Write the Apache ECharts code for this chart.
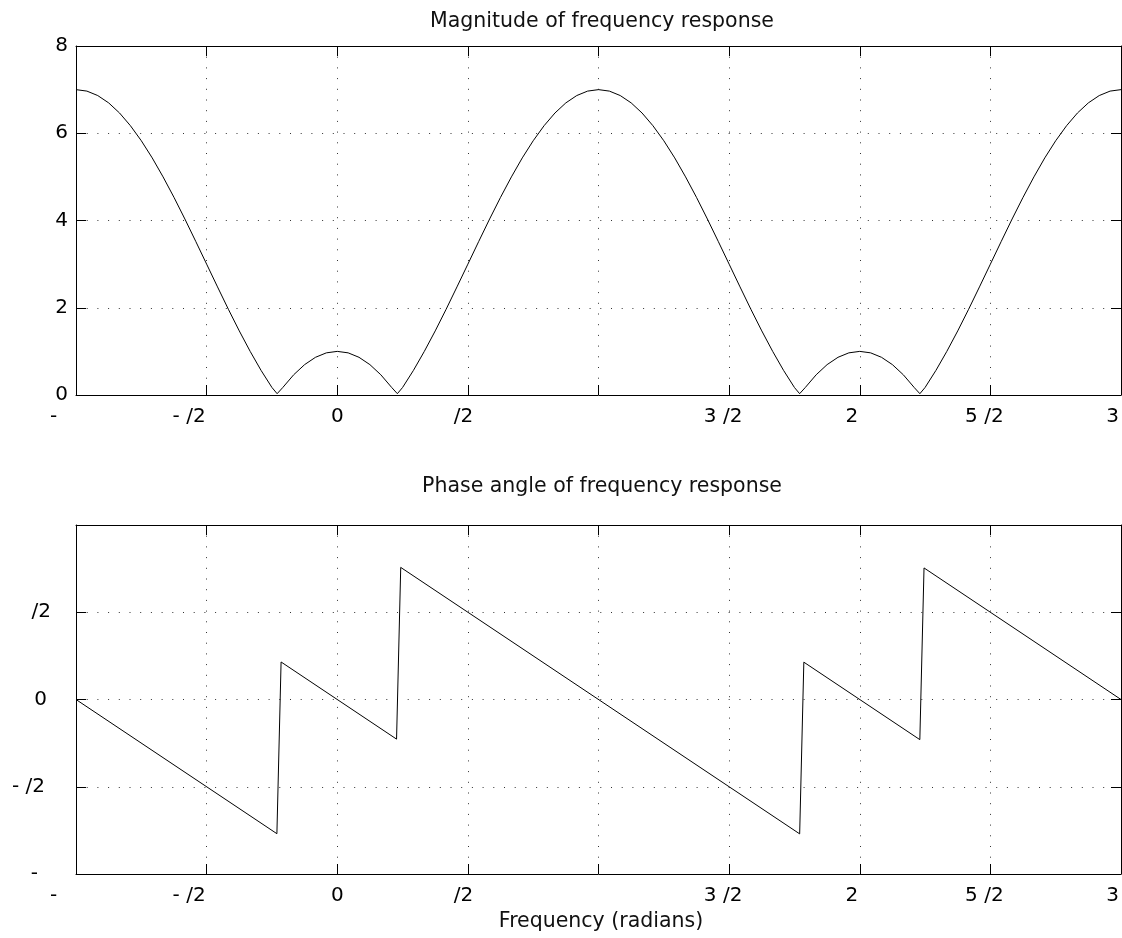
<!DOCTYPE html>
<html>
<head>
<meta charset="utf-8">
<script src="https://cdn.jsdelivr.net/npm/echarts@6/dist/echarts.min.js"></script>
<style>
html,body{margin:0;padding:0;background:#fff;}
#chart{width:1122px;height:938px;}
</style>
</head>
<body>
<div id="chart"></div>
<script>
// ---------------- data (frequency and phase in units of pi) ----------------
const titles = ["Magnitude of frequency response", "Phase angle of frequency response"];
const xAxisTitle = "Frequency (radians)";

// tick labels as they appear in the reference (the pi glyph is not rendered)
const freqTickLabels = ["-", "- /2", "0", " /2", "", "3 /2", "2", "5 /2", "3"];
const magTickLabels = ["0", "2", "4", "6", "8"];
const phaseTickLabels = ["-", "- /2", "0", " /2", ""];

const magFreq = [
  -1, -0.9583, -0.9167, -0.875, -0.8333, -0.7917, -0.75, -0.7083, -0.6667, -0.625, -0.5833, -0.5417,
  -0.5, -0.4583, -0.4167, -0.375, -0.3333, -0.2917, -0.25, -0.2301, -0.2083, -0.1667, -0.125, -0.0833, -0.0417,
  0, 0.0417, 0.0833, 0.125, 0.1667, 0.2083, 0.2301, 0.25, 0.2917, 0.3333, 0.375, 0.4167, 0.4583,
  0.5, 0.5417, 0.5833, 0.625, 0.6667, 0.7083, 0.75, 0.7917, 0.8333, 0.875, 0.9167, 0.9583,
  1, 1.0417, 1.0833, 1.125, 1.1667, 1.2083, 1.25, 1.2917, 1.3333, 1.375, 1.4167, 1.4583,
  1.5, 1.5417, 1.5833, 1.625, 1.6667, 1.7083, 1.75, 1.7699, 1.7917, 1.8333, 1.875, 1.9167, 1.9583,
  2, 2.0417, 2.0833, 2.125, 2.1667, 2.2083, 2.2301, 2.25, 2.2917, 2.3333, 2.375, 2.4167, 2.4583,
  2.5, 2.5417, 2.5833, 2.625, 2.6667, 2.7083, 2.75, 2.7917, 2.8333, 2.875, 2.9167, 2.9583, 3
];
const magValue = [
  7.000, 6.966, 6.864, 6.696, 6.464, 6.173, 5.828, 5.435, 5.000, 4.531, 4.035, 3.522,
  3.000, 2.478, 1.965, 1.469, 1.000, 0.565, 0.172, 0.030, 0.173, 0.464, 0.696, 0.864, 0.966,
  1.000, 0.966, 0.864, 0.696, 0.464, 0.173, 0.030, 0.172, 0.565, 1.000, 1.469, 1.965, 2.478,
  3.000, 3.522, 4.035, 4.531, 5.000, 5.435, 5.828, 6.173, 6.464, 6.696, 6.864, 6.966,
  7.000, 6.966, 6.864, 6.696, 6.464, 6.173, 5.828, 5.435, 5.000, 4.531, 4.035, 3.522,
  3.000, 2.478, 1.965, 1.469, 1.000, 0.565, 0.172, 0.030, 0.173, 0.464, 0.696, 0.864, 0.966,
  1.000, 0.966, 0.864, 0.696, 0.464, 0.173, 0.030, 0.172, 0.565, 1.000, 1.469, 1.965, 2.478,
  3.000, 3.522, 4.035, 4.531, 5.000, 5.435, 5.828, 6.173, 6.464, 6.696, 6.864, 6.966, 7.000
];

const phaseFreq  = [-1, -0.231, -0.215, 0.227, 0.243, 1.770, 1.786, 2.230, 2.246, 3];
const phaseValue = [0, -0.769, 0.215, -0.227, 0.757, -0.770, 0.214, -0.230, 0.754, 0];

// ---------------- style / layout ----------------
const FONT = "'DejaVu Sans', 'Liberation Sans', sans-serif";
const FS = 20;
const xLabelPad = [45, 35, 0, 15, 0, 12, 16, 12, 17];
const phaseLabelPad = [30, 23, 21, 17, 0];
const magLabelPad = [0, 0, 0, 0, 0];

function richFor(pads) {
  const r = {};
  pads.forEach((p, i) => {
    r['p' + i] = { fontFamily: FONT, fontSize: FS, color: '#000', lineHeight: 20, padding: [0, p, 0, 0] };
  });
  return r;
}
function fmtFor(labels, min, step) {
  return function (v) {
    const i = Math.round((v - min) / step);
    const t = labels[i];
    if (!t) return '';
    return '{p' + i + '|' + t + '}';
  };
}

const axisLineStyle = { color: '#000', width: 1 };
const gridDots = { type: [1, 9.7], color: '#333', width: 1 };

function xAxes(gi) {
  return [
    {
      gridIndex: gi, type: 'value', min: -1, max: 3, interval: 0.5, position: 'bottom',
      axisLine: { show: true, onZero: false, lineStyle: axisLineStyle },
      axisTick: { show: true, inside: true, length: 10, lineStyle: axisLineStyle },
      axisLabel: { show: true, margin: 12, showMinLabel: true, showMaxLabel: true,
        formatter: fmtFor(freqTickLabels, -1, 0.5), rich: richFor(xLabelPad) },
      splitLine: { show: true, lineStyle: gridDots }
    },
    {
      gridIndex: gi, type: 'value', min: -1, max: 3, interval: 0.5, position: 'top',
      axisLine: { show: true, onZero: false, lineStyle: axisLineStyle },
      axisTick: { show: true, inside: true, length: 10, lineStyle: axisLineStyle },
      axisLabel: { show: false },
      splitLine: { show: false }
    }
  ];
}
function yAxes(gi, min, max, step, labels, pads) {
  return [
    {
      gridIndex: gi, type: 'value', min: min, max: max, interval: step, position: 'left',
      axisLine: { show: true, onZero: false, lineStyle: axisLineStyle },
      axisTick: { show: true, inside: true, length: 10, lineStyle: axisLineStyle },
      axisLabel: { show: true, margin: 8, showMinLabel: true, showMaxLabel: true,
        formatter: fmtFor(labels, min, step), rich: richFor(pads) },
      splitLine: { show: true, lineStyle: gridDots }
    },
    {
      gridIndex: gi, type: 'value', min: min, max: max, interval: step, position: 'right',
      axisLine: { show: true, onZero: false, lineStyle: axisLineStyle },
      axisTick: { show: true, inside: true, length: 10, lineStyle: axisLineStyle },
      axisLabel: { show: false },
      splitLine: { show: false }
    }
  ];
}

const chart = echarts.init(document.getElementById('chart'), null, { renderer: 'canvas' });
chart.setOption({
  animation: false,
  backgroundColor: '#fff',
  grid: [
    { left: 76, top: 46, width: 1045, height: 349, containLabel: false, outerBoundsMode: 'none' },
    { left: 76, top: 525, width: 1045, height: 349, containLabel: false, outerBoundsMode: 'none' }
  ],
  xAxis: xAxes(0).concat(xAxes(1)),
  yAxis: yAxes(0, 0, 8, 2, magTickLabels, magLabelPad).concat(yAxes(1, -1, 1, 0.5, phaseTickLabels, phaseLabelPad)),
  series: [
    {
      type: 'line', xAxisIndex: 0, yAxisIndex: 0,
      data: magFreq.map((x, i) => [x, magValue[i]]),
      showSymbol: false, symbol: 'none', smooth: false,
      lineStyle: { color: '#000', width: 1 }
    },
    {
      type: 'line', xAxisIndex: 2, yAxisIndex: 2,
      data: phaseFreq.map((x, i) => [x, phaseValue[i]]),
      showSymbol: false, symbol: 'none', smooth: false,
      lineStyle: { color: '#000', width: 1 }
    }
  ],
  graphic: [
    { type: 'text', x: 602, y: 22, style: { text: titles[0], font: "20.5px 'DejaVu Sans'", fill: '#111', textAlign: 'center', textVerticalAlign: 'middle' } },
    { type: 'text', x: 602, y: 487, style: { text: titles[1], font: "20.5px 'DejaVu Sans'", fill: '#111', textAlign: 'center', textVerticalAlign: 'middle' } },
    { type: 'text', x: 601, y: 922, style: { text: xAxisTitle, font: "20.5px 'DejaVu Sans'", fill: '#111', textAlign: 'center', textVerticalAlign: 'middle' } }
  ]
});
</script>
</body>
</html>
